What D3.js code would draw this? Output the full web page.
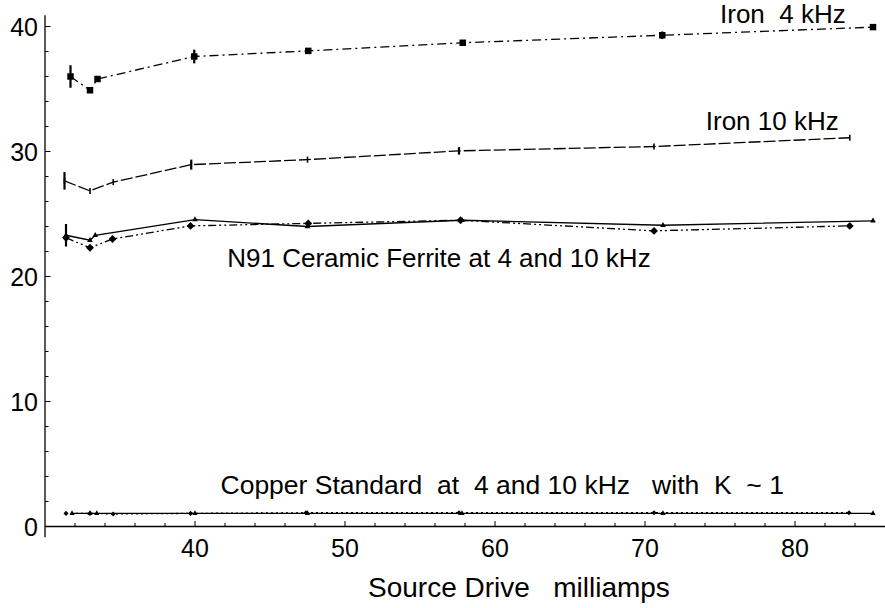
<!DOCTYPE html>
<html>
<head>
<meta charset="utf-8">
<script src="https://cdn.jsdelivr.net/npm/d3@7"></script>
<style>
  html, body { margin: 0; padding: 0; background: #fff; }
  svg { display: block; }
  text { font-family: "Liberation Sans", Arial, sans-serif; fill: #000; white-space: pre; }
</style>
</head>
<body>
<div id="chart"></div>
<script>
// ---- data (x: source drive in mA, y: K) ----
const iron4X  = [31.7, 33.0, 33.5, 39.95, 47.55, 57.85, 71.15, 85.2];
const iron4Y  = [36.0, 34.9, 35.8, 37.6, 38.05, 38.7, 39.3, 39.95];
const iron4Err = [0.9, 0, 0, 0.55, 0, 0, 0.3, 0];

const iron10X = [31.3, 33.0, 34.55, 39.75, 47.5, 57.6, 70.6, 83.65];
const iron10Y = [27.65, 26.85, 27.55, 28.95, 29.35, 30.05, 30.4, 31.1];
const iron10Err = [0.7, 0, 0, 0.4, 0, 0.3, 0, 0];

const n91_4X  = [31.4, 33.0, 33.35, 40.0, 47.5, 57.8, 71.2, 85.2];
const n91_4Y  = [23.3, 22.9, 23.3, 24.55, 24.0, 24.5, 24.1, 24.45];
const n91_4Err = [0.9, 0, 0, 0, 0, 0, 0, 0];

const n91_10X = [31.4, 33.0, 34.5, 39.7, 47.55, 57.7, 70.6, 83.65];
const n91_10Y = [23.1, 22.3, 23.0, 24.05, 24.25, 24.5, 23.65, 24.05];

const cu4X  = [31.8, 33.0, 33.45, 40.0, 47.5, 57.8, 71.2, 85.2];
const cu4Y  = [1.05, 1.05, 1.05, 1.05, 1.05, 1.05, 1.05, 1.05];
const cu10X = [31.4, 33.0, 34.55, 39.7, 47.4, 57.6, 70.6, 83.6];
const cu10Y = [1.05, 1.05, 1.0, 1.05, 1.1, 1.1, 1.1, 1.1];

const xMajorTicks = [40, 50, 60, 70, 80];
const yMajorTicks = [0, 10, 20, 30, 40];

const annotations = [
  {text: "Iron  4 kHz", x: 75.0, y: 40.3, size: 26},
  {text: "Iron 10 kHz", x: 74.05, y: 31.7, size: 26},
  {text: "N91 Ceramic Ferrite at 4 and 10 kHz", x: 42.15, y: 20.75, size: 26},
  {text: "Copper Standard  at  4 and 10 kHz   with  K  ~ 1", x: 41.7, y: 2.6, size: 26.5}
];
const xTitle = "Source Drive   milliamps";

// ---- layout ----
const W = 885, H = 608;
const svg = d3.select("#chart").append("svg").attr("width", W).attr("height", H);

const x = d3.scaleLinear().domain([30, 86]).range([45, 885]);
const y = d3.scaleLinear().domain([0, 40]).range([526.5, 26.5]);

// axes lines
svg.append("line").attr("x1", x(30)).attr("x2", x(30))
  .attr("y1", y(40.9)).attr("y2", y(-0.85))
  .attr("stroke", "#000").attr("stroke-width", 1.3);
svg.append("line").attr("x1", x(30)).attr("x2", x(86))
  .attr("y1", y(0)).attr("y2", y(0))
  .attr("stroke", "#000").attr("stroke-width", 1.3);

// y ticks (inward, to the right)
const yMinor = d3.range(0, 41, 2);
svg.append("g").selectAll("line").data(yMinor).join("line")
  .attr("x1", x(30)).attr("x2", d => x(30) + (d % 10 === 0 ? 5.5 : 3.5))
  .attr("y1", d => y(d)).attr("y2", d => y(d))
  .attr("stroke", "#000").attr("stroke-width", 1);
svg.append("g").selectAll("text").data(yMajorTicks).join("text")
  .attr("x", 38).attr("y", d => y(d) + 9)
  .attr("text-anchor", "end").attr("font-size", 25)
  .text(d => d);

// x ticks (inward, up)
const xMinor = d3.range(32, 86, 2);
svg.append("g").selectAll("line").data(xMinor).join("line")
  .attr("x1", d => x(d)).attr("x2", d => x(d))
  .attr("y1", y(0)).attr("y2", d => y(0) - (d % 10 === 0 ? 5.5 : 3.5))
  .attr("stroke", "#000").attr("stroke-width", 1);
svg.append("g").selectAll("text").data(xMajorTicks).join("text")
  .attr("x", d => x(d)).attr("y", 557)
  .attr("text-anchor", "middle").attr("font-size", 25)
  .text(d => d);

svg.append("text").attr("x", 368).attr("y", 597)
  .attr("font-size", 28).text(xTitle);

// ---- series ----
function series(xs, ys, dash, width) {
  const pts = xs.map((v, i) => [v, ys[i]]);
  svg.append("path").datum(pts)
    .attr("d", d3.line().x(d => x(d[0])).y(d => y(d[1])))
    .attr("fill", "none").attr("stroke", "#000")
    .attr("stroke-width", width || 1.3)
    .attr("stroke-dasharray", dash || null);
  return pts;
}
function errorBars(xs, ys, errs) {
  const pts = xs.map((v, i) => [v, ys[i], errs[i]]).filter(d => d[2] > 0);
  svg.append("g").selectAll("line").data(pts).join("line")
    .attr("x1", d => x(d[0])).attr("x2", d => x(d[0]))
    .attr("y1", d => y(d[1] + d[2])).attr("y2", d => y(d[1] - d[2]))
    .attr("stroke", "#000").attr("stroke-width", 2.2);
}
function markers(pts, type, size) {
  svg.append("g").selectAll("path").data(pts).join("path")
    .attr("transform", d => `translate(${x(d[0])},${y(d[1])})`)
    .attr("d", d3.symbol().type(type).size(size))
    .attr("fill", "#000");
}
function vticks(pts, len) {
  svg.append("g").selectAll("line").data(pts).join("line")
    .attr("x1", d => x(d[0])).attr("x2", d => x(d[0]))
    .attr("y1", d => y(d[1]) - len).attr("y2", d => y(d[1]) + len)
    .attr("stroke", "#000").attr("stroke-width", 1.6);
}

// Iron 4 kHz
let p = series(iron4X, iron4Y, "9,4,2,4");
errorBars(iron4X, iron4Y, iron4Err);
markers(p, d3.symbolSquare, 42);

// Iron 10 kHz
p = series(iron10X, iron10Y, "12,3");
errorBars(iron10X, iron10Y, iron10Err);
vticks(p, 3);

// N91 10 kHz (dash-dot-dot, diamonds)
p = series(n91_10X, n91_10Y, "8,3,2,3,2,3");
markers(p, d3.symbolDiamond2, 40);

// N91 4 kHz (solid, small triangles)
p = series(n91_4X, n91_4Y, null);
errorBars(n91_4X, n91_4Y, n91_4Err);
markers(p, d3.symbolTriangle, 14);

// Copper 10 kHz (dotted)
p = series(cu10X, cu10Y, "2,3");
markers(p, d3.symbolDiamond2, 16);
// Copper 4 kHz (solid)
p = series(cu4X, cu4Y, null);
markers(p, d3.symbolTriangle, 12);

// annotations
svg.append("g").selectAll("text").data(annotations).join("text")
  .attr("x", d => x(d.x)).attr("y", d => y(d.y))
  .attr("font-size", d => d.size)
  .text(d => d.text);
</script>
</body>
</html>
